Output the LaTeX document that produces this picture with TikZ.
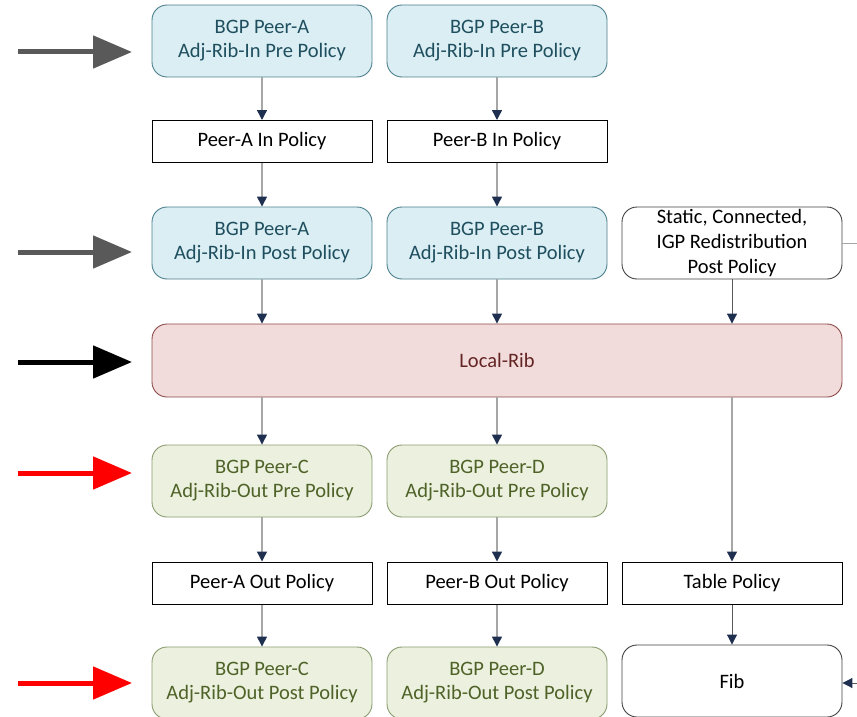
\documentclass[tikz,border=0pt]{standalone}
\usepackage{fontspec}
\setmainfont{Carlito}
\usetikzlibrary{arrows.meta}
\definecolor{bluefill}{HTML}{DAEEF3}
\definecolor{bluedraw}{HTML}{4B7F8C}
\definecolor{bluetext}{HTML}{1F4F5F}
\definecolor{pinkfill}{HTML}{F2DCDB}
\definecolor{pinkdraw}{HTML}{8C4A4A}
\definecolor{pinktext}{HTML}{632523}
\definecolor{greenfill}{HTML}{EBF1DE}
\definecolor{greendraw}{HTML}{8A9A70}
\definecolor{greentext}{HTML}{4F6228}
\definecolor{navytip}{HTML}{1F2F4F}
\definecolor{conngray}{HTML}{A6A6A6}
\definecolor{darkconn}{HTML}{595959}
\definecolor{biggray}{HTML}{595959}
\begin{document}
\begin{tikzpicture}[x=1pt,y=-1pt,
  font=\fontsize{20.5}{24}\selectfont,
  rbox/.style={rectangle,rounded corners=15pt,minimum width=220pt,minimum height=72pt,align=center,inner sep=0pt,line width=0.9pt},
  inbox/.style={rbox,fill=bluefill,draw=bluedraw,text=bluetext},
  outbox/.style={rbox,fill=greenfill,draw=greendraw,text=greentext},
  whitebox/.style={rbox,fill=white,draw=black!75,text=black},
  polbox/.style={rectangle,minimum width=220pt,minimum height=42pt,inner sep=0pt,draw=black,line width=1pt,fill=white,text=black},
  conn/.style={draw=conngray,line width=1.4pt,-{Triangle[length=10pt,width=10pt,color=navytip]}},
  dconn/.style={draw=darkconn,line width=1pt,-{Triangle[length=10pt,width=10pt,color=navytip]}},
  bigarrow/.style={line width=5pt,-{Triangle[length=39pt,width=32pt]}}
]
\useasboundingbox (0,0) rectangle (857,717);
% row 1
\node[inbox] (a1) at (262,41) {BGP Peer-A\\Adj-Rib-In Pre Policy};
\node[inbox] (b1) at (497,41) {BGP Peer-B\\Adj-Rib-In Pre Policy};
% row 2
\node[polbox] (a2) at (262,141.5) {Peer-A In Policy};
\node[polbox] (b2) at (497,141.5) {Peer-B In Policy};
% row 3
\node[inbox] (a3) at (262,243) {BGP Peer-A\\Adj-Rib-In Post Policy};
\node[inbox] (b3) at (497,243) {BGP Peer-B\\Adj-Rib-In Post Policy};
\node[whitebox,font=\fontsize{20.5}{25}\selectfont] (c3) at (732,243) {Static, Connected,\\IGP Redistribution\\Post Policy};
% local rib
\node[rbox,minimum width=690pt,minimum height=73pt,fill=pinkfill,draw=pinkdraw,text=pinktext] (lr) at (497,360.5) {Local-Rib};
% row 5
\node[outbox] (a5) at (262,481) {BGP Peer-C\\Adj-Rib-Out Pre Policy};
\node[outbox] (b5) at (497,481) {BGP Peer-D\\Adj-Rib-Out Pre Policy};
% row 6
\node[polbox] (a6) at (262,583) {Peer-A Out Policy};
\node[polbox] (b6) at (497,583) {Peer-B Out Policy};
\node[polbox] (c6) at (732,583) {Table Policy};
% row 7
\node[outbox] (a7) at (262,683) {BGP Peer-C\\Adj-Rib-Out Post Policy};
\node[outbox] (b7) at (497,683) {BGP Peer-D\\Adj-Rib-Out Post Policy};
\node[whitebox] (c7) at (732,681) {Fib};
% connectors
\draw[conn] (a1) -- (a2);
\draw[conn] (b1) -- (b2);
\draw[conn] (a2) -- (a3);
\draw[conn] (b2) -- (b3);
\draw[conn] (a3) -- (a3 |- lr.north);
\draw[conn] (b3) -- (b3 |- lr.north);
\draw[dconn] (c3) -- (c3 |- lr.north);
\draw[conn] (a3 |- lr.south) -- (a5);
\draw[conn] (b3 |- lr.south) -- (b5);
\draw[conn] (c3 |- lr.south) -- (c6);
\draw[conn] (a5) -- (a6);
\draw[conn] (b5) -- (b6);
\draw[conn] (a6) -- (a7);
\draw[conn] (b6) -- (b7);
\draw[dconn] (c6) -- (c7);
\coordinate (rs) at (857,243);
\coordinate (rf) at (857,683);
\draw[draw=conngray,line width=1pt] (c3.east) -- (rs);
\draw[dconn] (rf) -- (c7.east |- rf);
% big arrows
\coordinate (s1) at (18,52); \coordinate (e1) at (132,52);
\coordinate (s2) at (18,252); \coordinate (e2) at (132,252);
\coordinate (s3) at (18,362); \coordinate (e3) at (132,362);
\coordinate (s4) at (18,473); \coordinate (e4) at (132,473);
\coordinate (s5) at (18,683); \coordinate (e5) at (132,683);
\draw[bigarrow,biggray] (s1) -- (e1);
\draw[bigarrow,biggray] (s2) -- (e2);
\draw[bigarrow,black] (s3) -- (e3);
\draw[bigarrow,red] (s4) -- (e4);
\draw[bigarrow,red] (s5) -- (e5);
\end{tikzpicture}
\end{document}
